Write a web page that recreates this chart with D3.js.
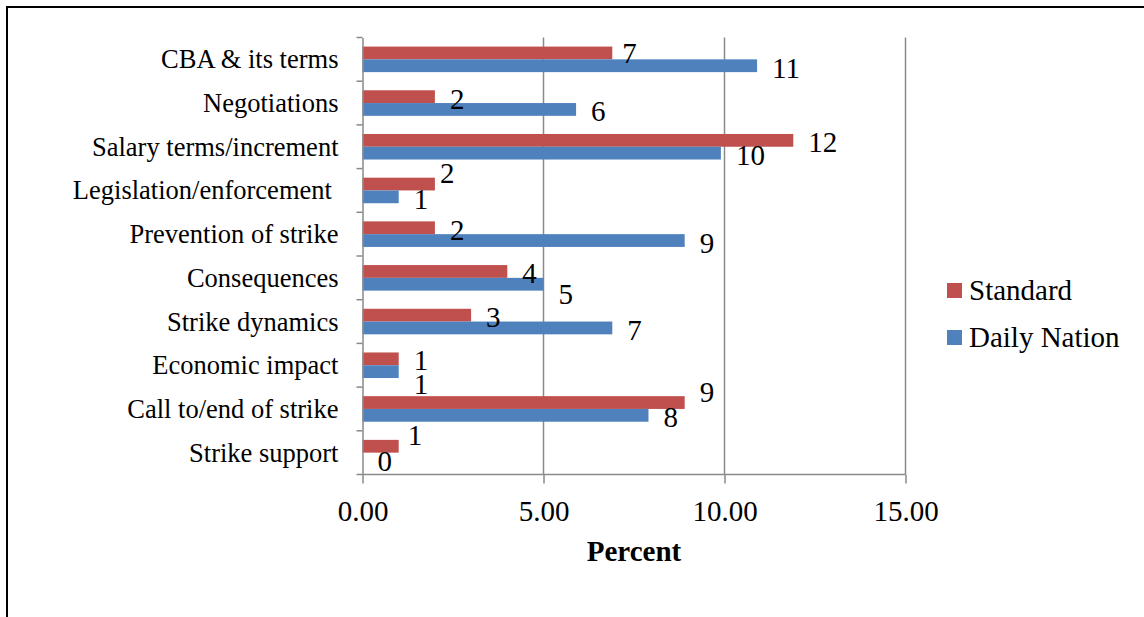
<!DOCTYPE html>
<html>
<head>
<meta charset="utf-8">
<script src="https://cdn.jsdelivr.net/npm/d3@7"></script>
<style>
  html, body { margin: 0; padding: 0; background: #ffffff; }
  svg { display: block; }
</style>
</head>
<body>
<svg id="chart" width="1144" height="617"></svg>
<script>
// Coverage themes (top to bottom)
const categories = [
  "CBA & its terms",
  "Negotiations",
  "Salary terms/increment",
  "Legislation/enforcement ",
  "Prevention of strike",
  "Consequences",
  "Strike dynamics",
  "Economic impact",
  "Call to/end of strike",
  "Strike support"
];

const seriesNames = ["Standard", "Daily Nation"];

// Percent of coverage per theme
const standardValues    = [6.9, 2, 11.9, 2, 2, 4, 3, 1, 8.9, 1];
const dailyNationValues = [10.9, 5.9, 9.9, 1, 8.9, 5, 6.9, 1, 7.9, 0];

const xTicks = [0, 5, 10, 15];

// Hand-placed data labels that sit away from the default spot [dx, dy]
const labelNudges = {
  "Standard|CBA & its terms": [-5, -2],
  "Standard|Legislation/enforcement ": [-10, -13],
  "Daily Nation|Consequences": [0, 8],
  "Daily Nation|Economic impact": [0, 10],
  "Standard|Economic impact": [0, -1],
  "Standard|Call to/end of strike": [0, -13],
  "Standard|Strike support": [-6, -13]
};

const FONT = "'Liberation Serif', 'Times New Roman', Times, serif";
const colors = { "Standard": "#C0504D", "Daily Nation": "#4F81BD" };
const gridColor = "#8a8a8a";

const svg = d3.select("#chart").style("font-family", FONT);

// outer frame (left and top edges)
svg.append("path")
  .attr("d", "M7,617 L7,7 L1144,7")
  .attr("fill", "none")
  .attr("stroke", "#000")
  .attr("stroke-width", 2);

const plot = { left: 362.5, right: 905.5, top: 37.5, bottom: 474.5 };

const x = d3.scaleLinear().domain([0, 15]).range([plot.left, plot.right]);
const y = d3.scaleBand().domain(categories).range([plot.top, plot.bottom]).paddingInner(0).paddingOuter(0);
const sub = d3.scaleBand().domain(seriesNames).range([0, y.bandwidth()]).paddingInner(0).paddingOuter(0.71);

// vertical gridlines
svg.append("g")
  .selectAll("line")
  .data(xTicks.filter(t => t > 0))
  .join("line")
  .attr("x1", d => x(d)).attr("x2", d => x(d))
  .attr("y1", plot.top).attr("y2", plot.bottom)
  .attr("stroke", gridColor).attr("stroke-width", 1.5);

// rows of data
const rows = categories.map((c, i) => ({
  category: c,
  values: [
    { series: "Standard", value: standardValues[i] },
    { series: "Daily Nation", value: dailyNationValues[i] }
  ]
}));

const groups = svg.append("g")
  .selectAll("g")
  .data(rows)
  .join("g")
  .attr("transform", d => `translate(0,${y(d.category)})`);

groups.selectAll("rect")
  .data(d => d.values.map(v => ({ ...v, category: d.category })))
  .join("rect")
  .attr("x", x(0))
  .attr("y", d => sub(d.series))
  .attr("width", d => x(d.value) - x(0))
  .attr("height", sub.bandwidth())
  .attr("fill", d => colors[d.series]);

const fmt = d3.format(".0f");
const nudge = d => labelNudges[d.series + "|" + d.category] || [0, 0];
groups.selectAll("text.value")
  .data(d => d.values.map(v => ({ ...v, category: d.category })))
  .join("text")
  .attr("class", "value")
  .attr("x", d => x(d.value) + 15 + nudge(d)[0])
  .attr("y", d => sub(d.series) + sub.bandwidth() / 2 + 12 + nudge(d)[1])
  .style("font-family", FONT)
  .style("font-size", "29px")
  .attr("fill", "#000")
  .text(d => fmt(d.value));

// y axis
const yAxis = d3.axisLeft(y).tickSize(0).tickPadding(24);
const yG = svg.append("g").attr("transform", `translate(${plot.left},0)`).call(yAxis)
  .attr("font-family", null).attr("font-size", null);
yG.select(".domain").attr("stroke", gridColor).attr("stroke-width", 1.5);
yG.selectAll(".tick text")
  .attr("dy", null)
  .attr("y", 9)
  .style("font-family", FONT)
  .style("font-size", "26.5px")
  .style("white-space", "pre")
  .attr("fill", "#000");
// category separators on the y axis
svg.append("g")
  .selectAll("line")
  .data(categories.map(c => y(c)).concat([plot.bottom]))
  .join("line")
  .attr("x1", plot.left - 6).attr("x2", plot.left)
  .attr("y1", d => d).attr("y2", d => d)
  .attr("stroke", gridColor).attr("stroke-width", 1.5);

// x axis
const xAxis = d3.axisBottom(x).tickValues(xTicks).tickFormat(d3.format(".2f")).tickSize(9).tickPadding(0);
const xG = svg.append("g").attr("transform", `translate(0,${plot.bottom})`).call(xAxis)
  .attr("font-family", null).attr("font-size", null);
xG.select(".domain").attr("stroke", gridColor).attr("stroke-width", 1.5).attr("d", `M${plot.left},0H${plot.right}`);
xG.selectAll(".tick line").attr("stroke", gridColor).attr("stroke-width", 1.5);
xG.selectAll(".tick text")
  .attr("dy", null)
  .attr("y", 46)
  .style("font-family", FONT)
  .style("font-size", "29px")
  .attr("fill", "#000");

// axis title
svg.append("text")
  .attr("x", (plot.left + plot.right) / 2)
  .attr("y", 561)
  .attr("text-anchor", "middle")
  .style("font-family", FONT)
  .style("font-size", "29px")
  .style("font-weight", "bold")
  .text("Percent");

// legend
const legend = svg.append("g")
  .selectAll("g")
  .data(seriesNames)
  .join("g")
  .attr("transform", (d, i) => `translate(947,${300 + i * 47})`);
legend.append("rect")
  .attr("x", 0).attr("y", -17)
  .attr("width", 15).attr("height", 15)
  .attr("fill", d => colors[d]);
legend.append("text")
  .attr("x", 22).attr("y", 0)
  .style("font-family", FONT)
  .style("font-size", "29px")
  .text(d => d);
</script>
</body>
</html>
